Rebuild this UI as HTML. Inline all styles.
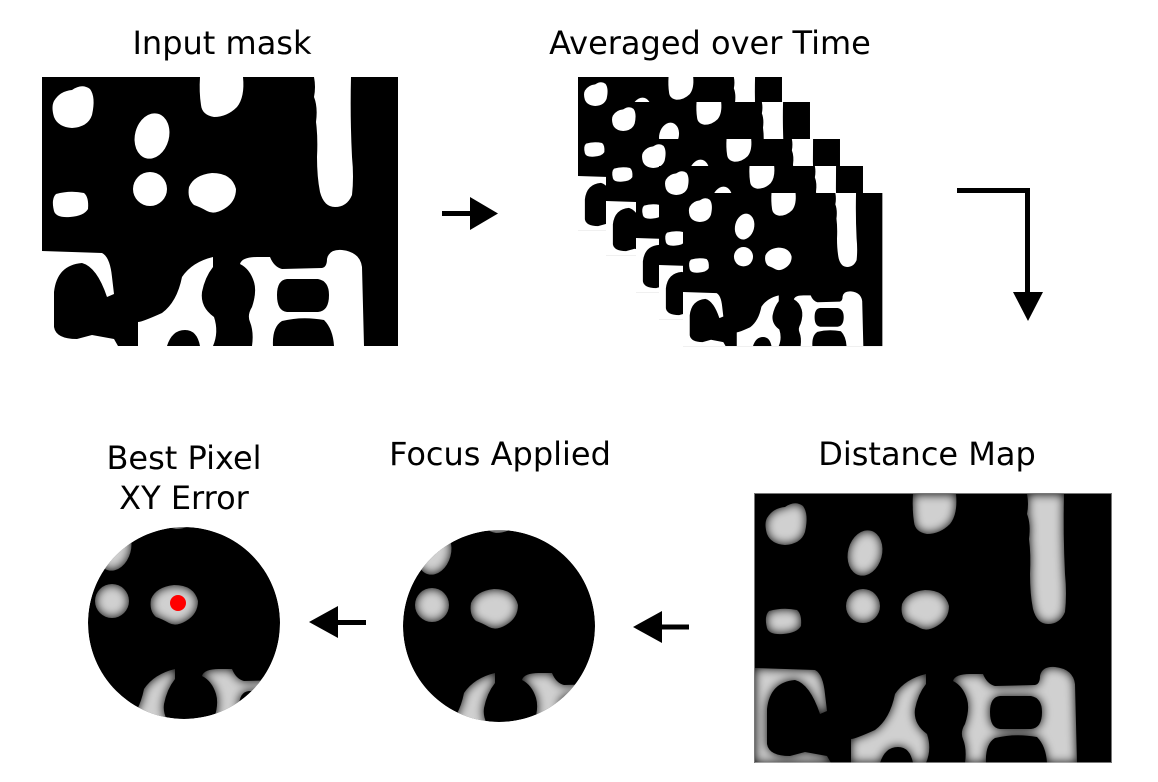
<!DOCTYPE html>
<html><head><meta charset="utf-8"><style>
html,body{margin:0;padding:0;background:#fff;}
svg{display:block;}
text{font-family:"DejaVu Sans","Liberation Sans",sans-serif;font-size:32px;fill:#000;text-anchor:middle;}
</style></head><body>
<svg width="1158" height="782" viewBox="0 0 1158 782" xmlns="http://www.w3.org/2000/svg">
<defs>
  <g id="shapes">
    <path d="M12,24 Q18,14 30,13 Q40,6 48,12 Q54,20 50,38 Q46,50 30,51 Q16,50 12,40 Q9,30 12,24 Z"/>
    <ellipse cx="110" cy="59" rx="17" ry="23" transform="rotate(15 110 59)"/>
    <path d="M158,0 L201,0 Q203,20 195,30 Q185,40 172,40 Q160,38 159,28 Q157,15 158,0 Z"/>
    <path d="M272,0 L309,0 Q308,40 310,80 Q312,100 310,118 Q305,130 293,130 Q282,130 278,115 Q275,100 275,80 Q276,60 274,45 Q276,30 272,20 Q274,10 272,0 Z"/>
    <path d="M14,117 Q28,113 42,116 Q47,120 46,132 Q42,139 28,140 Q14,141 12,134 Q9,122 14,117 Z"/>
    <ellipse cx="108" cy="112" rx="17" ry="17"/>
    <path d="M147,110 Q152,98 170,96 Q190,96 194,112 Q194,125 182,132 Q172,138 165,134 Q158,130 152,128 Q145,122 147,110 Z"/>
    <path d="M0,174 L60,176 Q68,180 70,200 L72,217 L65,220 Q55,190 40,186 Q15,188 12,215 L12,250 Q14,262 35,262 L50,258 L72,262 L76,269 L0,269 Z"/>
    <path d="M171,180 Q150,185 140,200 Q135,225 120,236 Q100,245 96,245 L96,269 L125,269 Q130,253 143,253 Q155,253 158,269 L171,269 Q177,255 172,240 Q158,230 160,215 Q163,200 171,190 Z"/>
    <path fill-rule="evenodd" d="M198,187 Q200,180 215,180 L228,180 Q232,190 240,192 L280,191 Q285,190 285,182 Q287,172 300,173 Q318,175 320,190 L322,269 L210,269 Q212,255 208,245 Q205,238 210,230 Q215,215 212,205 Q208,192 198,187 Z M245,202 L276,202 Q287,204 287,218 Q287,234 276,235 L245,235 Q235,234 235,218 Q235,203 245,202 Z M240,244 Q260,239 282,243 Q291,252 292,269 L231,269 Q230,250 240,244 Z"/>
  </g>
  <g id="mask">
    <rect x="0" y="0" width="356" height="269" fill="#000"/>
    <use href="#shapes" fill="#fff"/>
  </g>
  <filter id="dist" x="-5%" y="-5%" width="110%" height="110%">
    <feGaussianBlur in="SourceAlpha" stdDeviation="5" result="b"/>
    <feComposite in="b" in2="SourceAlpha" operator="in" result="c"/>
    <feFlood flood-color="#d0d0d0"/>
    <feComposite in2="c" operator="in"/>
  </filter>
  <clipPath id="c1"><circle cx="184" cy="623" r="96"/></clipPath>
  <clipPath id="c2"><circle cx="499" cy="626" r="96"/></clipPath>
  <clipPath id="dm"><rect x="0" y="0" width="356" height="269"/></clipPath>
</defs>

<text x="222" y="54">Input mask</text>
<use href="#mask" transform="translate(42,77)"/>

<text x="710" y="54">Averaged over Time</text>
<g>
  <use href="#mask" transform="translate(578,77) scale(0.573,0.569)"/>
  <use href="#mask" transform="translate(606,102) scale(0.573,0.569)"/>
  <use href="#mask" transform="translate(636,139) scale(0.573,0.569)"/>
  <use href="#mask" transform="translate(659,166) scale(0.573,0.569)"/>
  <use href="#mask" transform="translate(683,193) scale(0.56,0.569)"/>
</g>

<g>
  <rect x="442" y="211" width="30" height="5"/>
  <polygon points="470,197 498,213.5 470,230"/>
</g>
<g>
  <rect x="957" y="188" width="73" height="5"/>
  <rect x="1025" y="188" width="5" height="106"/>
  <polygon points="1013,292 1043,292 1028,321"/>
</g>

<text x="927" y="465">Distance Map</text>
<g transform="translate(755,494)">
  <rect x="-1" y="-1" width="358" height="270" fill="#777"/>
  <rect x="0" y="0" width="356" height="268" fill="#000"/>
  <g clip-path="url(#dm)"><use href="#shapes" fill="#fff" filter="url(#dist)"/></g>
</g>

<g>
  <rect x="660" y="624.5" width="29" height="5"/>
  <polygon points="662,611 633,627 662,643"/>
</g>

<text x="500" y="465">Focus Applied</text>
<g clip-path="url(#c2)">
  <circle cx="499" cy="626" r="96" fill="#000"/>
  <use href="#shapes" fill="#fff" filter="url(#dist)" transform="translate(324,493)"/>
</g>

<g>
  <rect x="336" y="620" width="30" height="5"/>
  <polygon points="338,606 309,622 338,638"/>
</g>

<text x="184" y="469">Best Pixel</text>
<text x="184" y="509">XY Error</text>
<g clip-path="url(#c1)">
  <circle cx="184" cy="623" r="96" fill="#000"/>
  <use href="#shapes" fill="#fff" filter="url(#dist)" transform="translate(4,489)"/>
</g>
<circle cx="178" cy="603" r="8" fill="#ff0000"/>
</svg>
</body></html>
